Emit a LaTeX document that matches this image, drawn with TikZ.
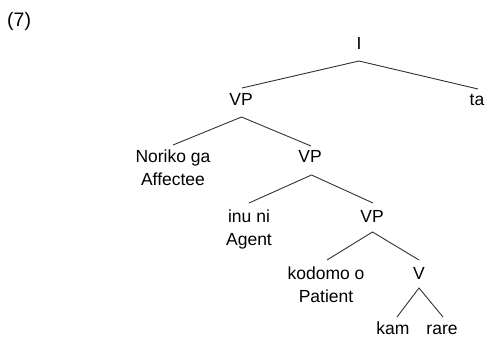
\documentclass[tikz,border=0pt]{standalone}
\usepackage{fontspec}
\setmainfont{Liberation Sans}
\begin{document}
\begin{tikzpicture}[x=1pt,y=-1pt,
  lbl/.style={inner sep=0pt, anchor=base, font=\fontsize{17.5}{23}\selectfont, align=center},
  edge/.style={line width=0.9pt, draw=black!80}]
\useasboundingbox (0,0) rectangle (485,337);
\node[lbl, anchor=base west, font=\fontsize{19.5}{23}\selectfont] (ex) at (7,27) {(7)};
\node[lbl] (I) at (359,49.5) {I};
\node[lbl] (VPa) at (241,105.5) {VP};
\node[lbl] (ta) at (477,105.5) {ta};
\node[lbl] (nor) at (173,185.5) {Noriko ga\\Affectee};
\node[lbl] (VPb) at (310,162.5) {VP};
\node[lbl] (inu) at (249,245.5) {inu ni\\Agent};
\node[lbl] (VPc) at (372,222.5) {VP};
\node[lbl] (kod) at (326,302.5) {kodomo o\\Patient};
\node[lbl] (V) at (419,279.5) {V};
\node[lbl] (kam) at (393,334.5) {kam};
\node[lbl] (rare) at (442,334.5) {rare};
\draw[edge] ([yshift=17.5pt,xshift=1pt]VPa.base) -- ([yshift=-11.5pt]I.base) -- ([yshift=16.5pt,xshift=1pt]ta.base);
\draw[edge] ([yshift=40.5pt]nor.base) -- ([yshift=-11.5pt,xshift=0.5pt]VPa.base) -- ([yshift=16.5pt,xshift=1pt]VPb.base);
\draw[edge] ([yshift=42.5pt]inu.base) -- ([yshift=-12.5pt,xshift=1.5pt]VPb.base) -- ([yshift=19.5pt,xshift=1pt]VPc.base);
\draw[edge] ([yshift=42.5pt,xshift=1pt]kod.base) -- ([yshift=-9.5pt,xshift=0.5pt]VPc.base) -- ([yshift=19.5pt]V.base);
\draw[edge] ([yshift=17.5pt,xshift=4pt]kam.base) -- ([yshift=-8.5pt]V.base) -- ([yshift=17.5pt,xshift=1pt]rare.base);
\end{tikzpicture}
\end{document}
